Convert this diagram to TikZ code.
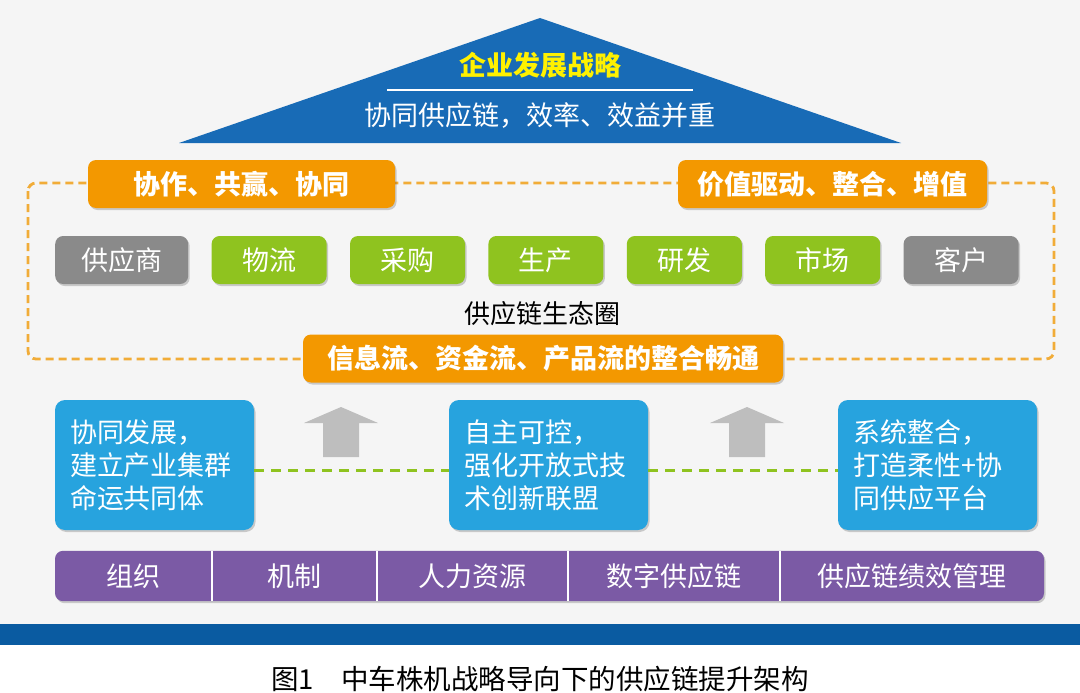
\documentclass[tikz,border=0pt]{standalone}
\usepackage{fontspec}
\setmainfont{Noto Sans CJK SC}
\usepackage{xcolor}
\usepackage{tikz}
\usetikzlibrary{positioning,shadows,backgrounds}

\definecolor{paper}{RGB}{245,245,245}
\definecolor{bandblue}{RGB}{10,91,161}
\definecolor{roofblue}{RGB}{24,107,182}
\definecolor{goalyellow}{RGB}{255,241,0}
\definecolor{tagorange}{RGB}{243,152,0}
\definecolor{frameorange}{RGB}{241,172,56}
\definecolor{leafgreen}{RGB}{143,195,31}
\definecolor{stonegray}{RGB}{138,138,138}
\definecolor{skyblue}{RGB}{39,163,222}
\definecolor{arrowgray}{RGB}{190,190,190}
\definecolor{basepurple}{RGB}{123,90,165}

\begin{document}
\begin{tikzpicture}[
    x=1pt, y=-1pt,
    txt/.style={font=\fontsize{27pt}{33pt}\selectfont},
    shade/.style={drop shadow={shadow xshift=1.5pt, shadow yshift=-2pt, opacity=0.18, fill=black}},
    tag/.style={txt, rounded corners=8pt, fill=tagorange, text=white, shade,
                minimum height=48pt, font=\fontsize{27pt}{33pt}\selectfont\bfseries},
    part/.style={txt, rounded corners=8pt, fill=leafgreen, text=white, shade,
                 minimum width=115pt, minimum height=48pt},
    party/.style={part, fill=stonegray},
    idea/.style={txt, rounded corners=10pt, fill=skyblue, text=white, shade,
                 text width=169pt, inner xsep=15pt, minimum height=130pt, align=left},
    seg/.style={txt, text=white, minimum height=50pt, inner sep=0pt},
    frame/.style={draw=frameorange, line width=2.8pt, dash pattern=on 8pt off 5pt, rounded corners=8pt},
    link/.style={draw=leafgreen, line width=3pt, dash pattern=on 10pt off 7pt},
    divider/.style={draw=white, line width=2pt},
    uparr/.style={fill=arrowgray}
]
    \useasboundingbox (0,0) rectangle (1080,693);

    % roof
    \fill[roofblue] (540,18) -- (901,143) -- (179,143) -- cycle;
    \node[txt, text=goalyellow, font=\fontsize{27pt}{33pt}\selectfont\bfseries] (goal) at (540,65) {企业发展战略};
    \draw[white, line width=1.5pt] (387,90) -- (693,90);
    \node[txt, text=white] (motto) at (540,115) {协同供应链，效率、效益并重};

    % ecosystem
    \draw[frame] (28,183) rectangle (1054,359);
    \node[tag, minimum width=307pt] (coop) at (241.5,184) {协作、共赢、协同};
    \node[tag, minimum width=309pt] (value) at (832.5,184) {价值驱动、整合、增值};
    \node[tag, minimum width=480pt] (flow) at (543,358.5) {信息流、资金流、产品流的整合畅通};

    \node[party, minimum width=133pt, anchor=west] (supplier) at (55,260) {供应商};
    \node[part, right=23pt of supplier] (logistics) {物流};
    \node[part, right=23pt of logistics] (purchase) {采购};
    \node[part, right=23pt of purchase] (produce) {生产};
    \node[part, right=23pt of produce] (research) {研发};
    \node[part, right=23pt of research] (market) {市场};
    \node[party, right=23pt of market] (customer) {客户};
    \node[txt, font=\fontsize{26pt}{30pt}\selectfont] (eco) at (542,314) {供应链生态圈};

    % pillars
    \node[idea] (cluster) at (154.5,465) {协同发展，\\建立产业集群\\命运共同体};
    \node[idea] (alliance) at (548.5,465) {自主可控，\\强化开放式技\\术创新联盟};
    \node[idea] (platform) at (937.5,465) {系统整合，\\打造柔性+协\\同供应平台};
    \draw[link] ([yshift=-5pt]cluster.east) -- ([yshift=-5pt]alliance.west);
    \draw[link] ([yshift=-5pt]alliance.east) -- ([yshift=-5pt]platform.west);

    \fill[uparr] (341,407) -- (378,423) -- (359,423) -- (359,457) -- (323,457) -- (323,423) -- (304,423) -- cycle;
    \fill[uparr] (747,407) -- (784,423) -- (765,423) -- (765,457) -- (729,457) -- (729,423) -- (710,423) -- cycle;

    % base
    \node[seg, minimum width=157pt, anchor=west] (org) at (55,576) {组织};
    \node[seg, minimum width=164pt, right=0pt of org] (mech) {机制};
    \node[seg, minimum width=191pt, right=0pt of mech] (hr) {人力资源};
    \node[seg, minimum width=211pt, right=0pt of hr] (digital) {数字供应链};
    \node[seg, minimum width=264pt, right=0pt of digital] (perf) {供应链绩效管理};
    \draw[divider] (org.north east) -- (org.south east);
    \draw[divider] (mech.north east) -- (mech.south east);
    \draw[divider] (hr.north east) -- (hr.south east);
    \draw[divider] (digital.north east) -- (digital.south east);

    \begin{scope}[on background layer]
        \fill[paper] (0,0) rectangle (1080,624);
        \fill[bandblue] (0,624) rectangle (1080,645);
        \fill[basepurple, rounded corners=8pt, shade] (org.north west) rectangle (perf.south east);
    \end{scope}

    \node[txt, font=\fontsize{27.5pt}{32pt}\selectfont] (caption) at (540,679) {图1　中车株机战略导向下的供应链提升架构};
\end{tikzpicture}
\end{document}
